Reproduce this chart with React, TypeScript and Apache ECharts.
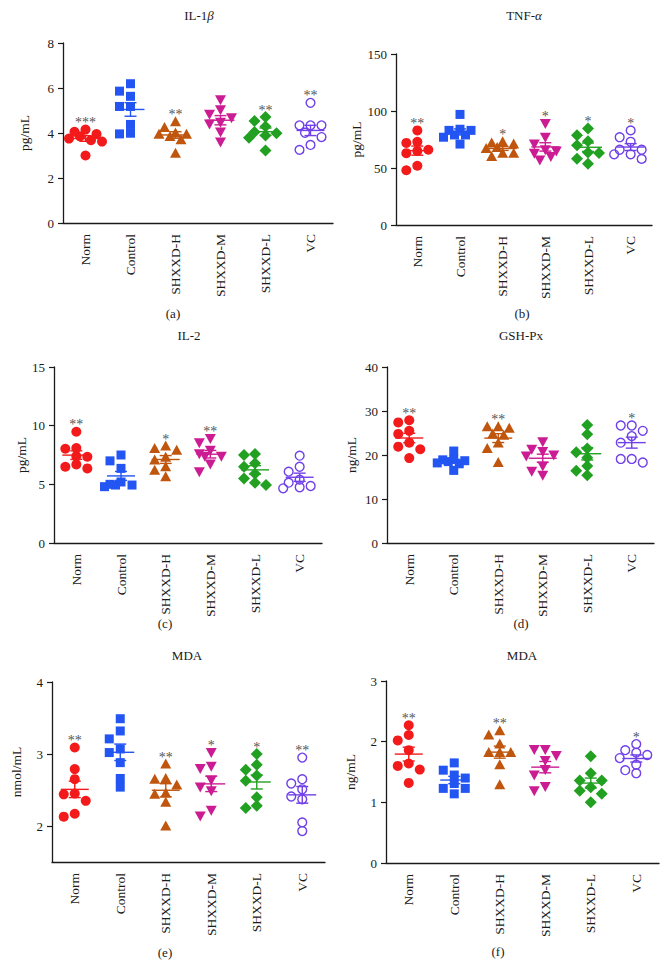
import React, { useEffect, useRef } from "react";
import * as echarts from "echarts";

const categories = ["Norm", "Control", "SHXXD-H", "SHXXD-M", "SHXXD-L", "VC"];
const groupColors = ["#f21a1a", "#2255f2", "#c0560e", "#cc1c93", "#22a022", "#7040e8"];

// (a) IL-1β, pg/mL
const il1b = [
  [3.62, 3.68, 3.75, 3.85, 3.95, 4.05, 4.15, 3.0],
  [4.38, 3.96, 3.99, 5.18, 5.18, 5.86, 5.63, 6.19],
  [4.5, 4.25, 3.95, 4.0, 3.95, 3.85, 3.7, 3.1],
  [5.48, 4.83, 5.03, 4.48, 4.68, 4.4, 4.04, 3.6],
  [4.71, 4.53, 4.29, 4.05, 3.89, 3.79, 3.99, 3.22],
  [5.34, 4.34, 4.34, 4.34, 4.01, 3.82, 3.47, 3.25],
];
const il1bSig = ["***", "", "**", "", "**", "**"];
const il1bAxis = [0, 8, 2];

// (b) TNF-α, pg/mL
const tnf = [
  [83, 72, 73, 65, 63, 66, 52, 48],
  [97, 83, 83, 84, 79, 79, 77, 71],
  [73, 72, 71, 67, 68, 63, 63, 60],
  [89, 77, 71, 66, 65, 63, 60, 57],
  [84.6, 78.7, 73.5, 70, 63.5, 63.2, 58.2, 53.8],
  [83, 77, 73, 66, 66, 62, 62, 58],
];
const tnfSig = ["**", "", "*", "*", "*", "*"];
const tnfAxis = [0, 150, 50];

// (c) IL-2, pg/mL
const il2 = [
  [9.48, 8.1, 8.03, 7.4, 7.35, 6.7, 6.36, 6.5],
  [7.5, 7.0, 6.36, 5.2, 5.0, 4.94, 4.94, 4.8],
  [8.06, 8.26, 7.9, 7.3, 7.07, 6.5, 6.2, 5.65],
  [8.9, 8.54, 7.6, 7.9, 7.4, 7.4, 6.73, 6.08],
  [7.5, 7.58, 6.8, 6.5, 5.5, 5.9, 4.94, 5.14],
  [7.44, 6.5, 6.08, 5.4, 5.14, 4.86, 4.66, 4.75],
];
const il2Sig = ["**", "", "*", "**", "", ""];
const il2Axis = [0, 15, 5];

// (d) GSH-Px, ng/mL
const gsh = [
  [27.9, 27.4, 25.5, 24.8, 22.8, 21.9, 21.3, 19.3],
  [20.9, 18.9, 18.7, 18.0, 16.5, 18.5, 18.2, 19.0],
  [26.4, 26.4, 26.1, 24.5, 24.8, 22.7, 21.5, 18.3],
  [23.0, 21.3, 20.8, 20.0, 19.8, 17.5, 16.3, 15.4],
  [26.8, 24.7, 21.5, 20.6, 19.4, 17.5, 16.4, 15.4],
  [26.7, 26.7, 25.5, 24.3, 22.8, 19.1, 18.3, 19.1],
];
const gshSig = ["**", "", "**", "", "", "*"];
const gshAxis = [0, 40, 10];

// (e) MDA, nmol/mL
const mdaE = [
  [3.09, 2.79, 2.65, 2.44, 2.45, 2.35, 2.17, 2.13],
  [3.49, 3.32, 3.21, 3.02, 3.07, 2.88, 2.66, 2.54],
  [2.86, 2.66, 2.65, 2.57, 2.44, 2.46, 2.33, 2.0],
  [3.02, 2.8, 2.83, 2.64, 2.54, 2.49, 2.14, 2.22],
  [3.0, 2.85, 2.78, 2.7, 2.63, 2.4, 2.25, 2.28],
  [2.95, 2.65, 2.59, 2.51, 2.41, 2.37, 2.05, 1.93],
];
const mdaESig = ["**", "", "**", "*", "*", "**"];
const mdaEAxis = [1.5, 4, 0.5];
const mdaETicks = [2, 3, 4];

// (f) MDA, ng/mL
const mdaF = [
  [2.27, 2.11, 2.02, 1.86, 1.6, 1.54, 1.64, 1.32],
  [1.65, 1.53, 1.45, 1.4, 1.23, 1.23, 1.14, 1.31],
  [2.18, 2.11, 1.96, 1.82, 1.82, 1.82, 1.62, 1.29],
  [1.87, 1.87, 1.77, 1.69, 1.54, 1.45, 1.19, 1.26],
  [1.76, 1.48, 1.36, 1.36, 1.25, 1.19, 1.14, 1.0],
  [1.96, 1.86, 1.82, 1.78, 1.73, 1.62, 1.53, 1.48],
];
const mdaFSig = ["**", "", "**", "", "", "*"];
const mdaFAxis = [0, 3, 1];

const SERIF = '"Liberation Serif", "Times New Roman", serif';
const INK = "#1a1a1a";

type Panel = {
  data: number[][];
  sig: string[];
  axis: number[];
  ticks?: number[];
  unit: string;
  nameGap: number;
  grid: { left: number; top: number; width: number; height: number };
  title: string;
  titleRich?: boolean;
  titlePos: [number, number];
  tag: string;
  tagPos: [number, number];
};

const panels: Panel[] = [
  { data: il1b, sig: il1bSig, axis: il1bAxis, unit: "pg/mL", nameGap: 32,
    grid: { left: 63, top: 43, width: 270, height: 180 },
    title: "{n|IL-1}{g|β}", titleRich: true, titlePos: [199, 15], tag: "(a)", tagPos: [173, 313] },
  { data: tnf, sig: tnfSig, axis: tnfAxis, unit: "pg/mL", nameGap: 30,
    grid: { left: 396, top: 54, width: 256, height: 171 },
    title: "{n|TNF-}{g|α}", titleRich: true, titlePos: [524, 15], tag: "(b)", tagPos: [522, 313] },
  { data: il2, sig: il2Sig, axis: il2Axis, unit: "pg/mL", nameGap: 25,
    grid: { left: 54, top: 367, width: 268, height: 176 },
    title: "IL-2", titlePos: [189, 335], tag: "(c)", tagPos: [165, 623] },
  { data: gsh, sig: gshSig, axis: gshAxis, unit: "ng/mL", nameGap: 29,
    grid: { left: 387, top: 367, width: 267, height: 176 },
    title: "GSH-Px", titlePos: [521, 335], tag: "(d)", tagPos: [521, 623] },
  { data: mdaE, sig: mdaESig, axis: mdaEAxis, ticks: mdaETicks, unit: "nmol/mL", nameGap: 29,
    grid: { left: 52, top: 682, width: 273, height: 180 },
    title: "MDA", titlePos: [187, 655], tag: "(e)", tagPos: [165, 952] },
  { data: mdaF, sig: mdaFSig, axis: mdaFAxis, unit: "ng/mL", nameGap: 29,
    grid: { left: 386, top: 681, width: 273, height: 182 },
    title: "MDA", titlePos: [522, 655], tag: "(f)", tagPos: [498, 951] },
];

function meanOf(a: number[]) {
  return a.reduce((s, v) => s + v, 0) / a.length;
}
function semOf(a: number[]) {
  const m = meanOf(a);
  const sd = Math.sqrt(a.reduce((s, v) => s + (v - m) * (v - m), 0) / (a.length - 1));
  return sd / Math.sqrt(a.length);
}

// compact beeswarm (GraphPad-like): at most ~3 columns, partial overlap allowed
function swarm(ys: number[], d: number, step: number): number[] {
  const order = ys.map((_, i) => i).sort((a, b) => ys[a] - ys[b]);
  const cands = [0, -1, 1, -0.5, 0.5, -1.5, 1.5].map((c) => c * step);
  const placed: { x: number; y: number }[] = [];
  const out = new Array(ys.length).fill(0);
  for (const i of order) {
    let best = 0;
    let bestScore = -1;
    let chosen: number | null = null;
    for (const off of cands) {
      const md = placed.reduce((m, p) => Math.min(m, Math.hypot(p.x - off, p.y - ys[i])), Infinity);
      if (md >= d) {
        chosen = off;
        break;
      }
      if (md > bestScore) {
        bestScore = md;
        best = off;
      }
    }
    const off = chosen === null ? best : chosen;
    out[i] = off;
    placed.push({ x: off, y: ys[i] });
  }
  return out;
}

function marker(g: number, x: number, y: number) {
  const color = groupColors[g];
  switch (g) {
    case 0:
      return { type: "circle", shape: { cx: x, cy: y, r: 5 }, style: { fill: color } };
    case 1:
      return { type: "rect", shape: { x: x - 4.5, y: y - 4.5, width: 9, height: 9 }, style: { fill: color } };
    case 2:
      return { type: "polygon", shape: { points: [[x, y - 5.5], [x + 5.5, y + 4.5], [x - 5.5, y + 4.5]] }, style: { fill: color } };
    case 3:
      return { type: "polygon", shape: { points: [[x - 5.5, y - 4.5], [x + 5.5, y - 4.5], [x, y + 5.5]] }, style: { fill: color } };
    case 4:
      return { type: "polygon", shape: { points: [[x, y - 6], [x + 6, y], [x, y + 6], [x - 6, y]] }, style: { fill: color } };
    default:
      return { type: "circle", shape: { cx: x, cy: y, r: 4.4 }, style: { fill: "none", stroke: color, lineWidth: 1.4 } };
  }
}

function buildOption() {
  const grids: any[] = [];
  const xAxes: any[] = [];
  const yAxes: any[] = [];
  const series: any[] = [];
  const graphics: any[] = [];

  panels.forEach((p, pi) => {
    grids.push({ ...p.grid, containLabel: false });
    xAxes.push({
      gridIndex: pi,
      type: "category",
      data: categories,
      axisLine: { lineStyle: { color: INK, width: 1.3 } },
      axisTick: { alignWithLabel: true, length: 5, lineStyle: { color: INK, width: 1.2 } },
      axisLabel: { rotate: 90, margin: 11, fontSize: 13.5, fontFamily: SERIF, color: INK, interval: 0 },
      splitLine: { show: false },
    });
    const [mn, mx, iv] = p.axis;
    const yAxis: any = {
      gridIndex: pi,
      type: "value",
      min: mn,
      max: mx,
      interval: iv,
      name: p.unit,
      nameLocation: "middle",
      nameGap: p.nameGap,
      nameTextStyle: { fontSize: 13.5, fontFamily: SERIF, color: INK },
      axisLine: { show: true, lineStyle: { color: INK, width: 1.3 } },
      axisTick: { show: true, length: 5, lineStyle: { color: INK, width: 1.2 } },
      axisLabel: { margin: 9, fontSize: 13, fontFamily: SERIF, color: INK },
      splitLine: { show: false },
    };
    if (p.ticks) {
      yAxis.axisTick.customValues = p.ticks;
      yAxis.axisLabel.customValues = p.ticks;
    }
    yAxes.push(yAxis);

    const pts: number[][] = [];
    p.data.forEach((vals, g) => vals.forEach((v, i) => pts.push([g, v, i])));
    const cache: Record<number, number[]> = {};
    series.push({
      type: "custom",
      xAxisIndex: pi,
      yAxisIndex: pi,
      encode: { x: 0, y: 1 },
      data: pts,
      z: 2,
      renderItem: (params: any, api: any) => {
        const g = api.value(0) as number;
        const v = api.value(1) as number;
        const idx = api.value(2) as number;
        if (params.dataIndexInside === 0) {
          for (const k in cache) delete cache[k];
        }
        if (!cache[g]) {
          const ys = p.data[g].map((val) => api.coord([g, val])[1]);
          cache[g] = swarm(ys, 8, 11);
        }
        const c = api.coord([g, v]);
        return marker(g, c[0] + cache[g][idx], c[1]);
      },
    });

    const stats = p.data.map((vals, g) => [g, meanOf(vals), semOf(vals), Math.max(...vals)]);
    series.push({
      type: "custom",
      xAxisIndex: pi,
      yAxisIndex: pi,
      encode: { x: 0, y: 1 },
      data: stats,
      z: 3,
      renderItem: (params: any, api: any) => {
        const g = api.value(0) as number;
        const m = api.value(1) as number;
        const s = api.value(2) as number;
        const top = api.value(3) as number;
        const color = groupColors[g];
        const cm = api.coord([g, m]);
        const hi = api.coord([g, m + s])[1];
        const lo = api.coord([g, m - s])[1];
        const ty = api.coord([g, top])[1];
        const ls = { stroke: color, lineWidth: 1.4 };
        const children: any[] = [
          { type: "line", shape: { x1: cm[0] - 14, y1: cm[1], x2: cm[0] + 14, y2: cm[1] }, style: ls },
          { type: "line", shape: { x1: cm[0], y1: hi, x2: cm[0], y2: lo }, style: ls },
          { type: "line", shape: { x1: cm[0] - 6, y1: hi, x2: cm[0] + 6, y2: hi }, style: ls },
          { type: "line", shape: { x1: cm[0] - 6, y1: lo, x2: cm[0] + 6, y2: lo }, style: ls },
        ];
        if (p.sig[g]) {
          children.push({
            type: "text",
            x: cm[0],
            y: ty - 7,
            style: {
              text: p.sig[g],
              fill: "#555",
              font: `14px ${SERIF}`,
              align: "center",
              verticalAlign: "middle",
            },
          });
        }
        return { type: "group", children };
      },
    });

    graphics.push({
      type: "text",
      x: p.titlePos[0],
      y: p.titlePos[1],
      style: p.titleRich
        ? {
            text: p.title,
            align: "center",
            verticalAlign: "middle",
            textAlign: "center",
            textVerticalAlign: "middle",
            rich: {
              n: { fontSize: 13, fontFamily: SERIF, fill: INK, color: INK },
              g: { fontSize: 13, fontFamily: SERIF, fontStyle: "italic", fill: INK, color: INK },
            },
          }
        : {
            text: p.title,
            font: `13px ${SERIF}`,
            fill: INK,
            align: "center",
            verticalAlign: "middle",
            textAlign: "center",
            textVerticalAlign: "middle",
          },
    });
    graphics.push({
      type: "text",
      x: p.tagPos[0],
      y: p.tagPos[1],
      style: {
        text: p.tag,
        font: `13px ${SERIF}`,
        fill: INK,
        align: "center",
        verticalAlign: "middle",
        textAlign: "center",
        textVerticalAlign: "middle",
      },
    });
  });

  return {
    animation: false,
    backgroundColor: "#ffffff",
    grid: grids,
    xAxis: xAxes,
    yAxis: yAxes,
    series,
    graphic: graphics,
  };
}

export default function App() {
  const ref = useRef<HTMLDivElement>(null);
  useEffect(() => {
    if (!ref.current) return;
    const chart = echarts.init(ref.current, null, { renderer: "svg" });
    chart.setOption(buildOption() as any);
    return () => chart.dispose();
  }, []);
  return (
    <div
      ref={ref}
      style={{ position: "absolute", left: 0, top: 0, width: 667, height: 977, background: "#fff" }}
    />
  );
}
